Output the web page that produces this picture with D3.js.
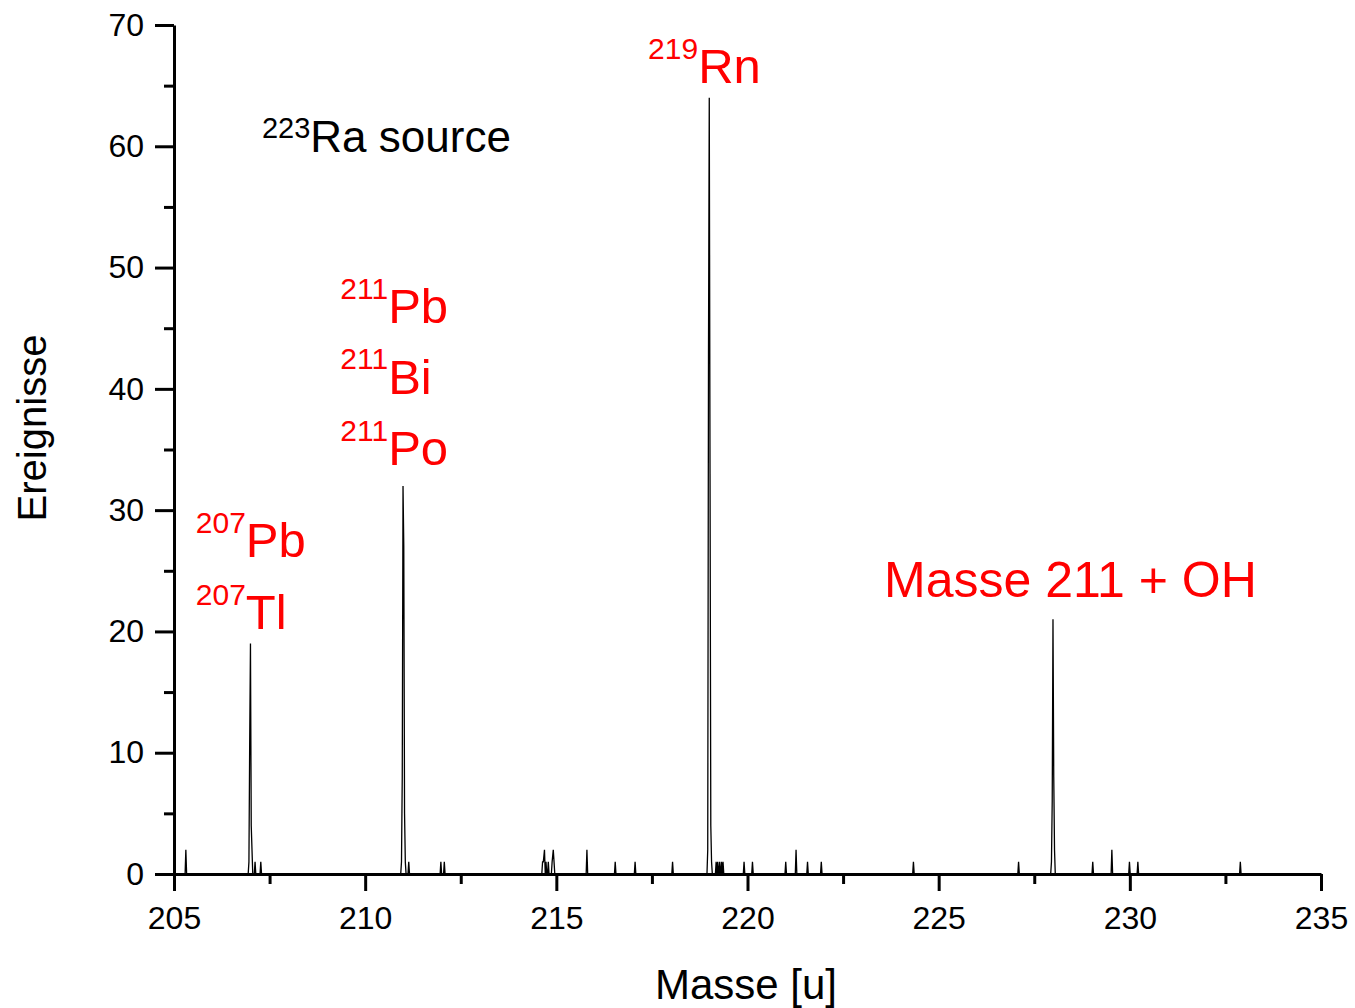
<!DOCTYPE html>
<html>
<head>
<meta charset="utf-8">
<script src="https://cdn.jsdelivr.net/npm/d3@7"></script>
<style>
  body { margin: 0; background: #fff; }
  svg { display: block; font-family: "Liberation Sans", Arial, sans-serif; }
</style>
</head>
<body>
<div id="chart"></div>
<script>
// Massenspektrum, 223Ra Quelle
var masses = [205.31,
    206.96, 206.98, 207.00, 207.02, 207.04, 207.12, 207.27,
    210.95, 210.97, 210.99, 211.01, 211.03, 211.05, 211.14, 211.98, 212.07,
    214.64, 214.66, 214.69, 214.73, 214.79, 214.89, 214.92, 214.94,
    215.80, 216.54, 217.06, 218.04,
    218.96, 218.98, 219.00, 219.02, 219.04, 219.06,
    219.18, 219.22, 219.27, 219.32, 219.36, 219.91, 220.13,
    221.00, 221.27, 221.57, 221.93, 224.34, 227.09,
    227.95, 227.97, 227.99, 228.01, 228.03,
    229.03, 229.53, 229.99, 230.21, 232.89];
var counts = [2,
    1, 11, 19, 4, 2, 1, 1,
    1, 8, 32, 27, 5, 1, 1, 1, 1,
    1, 1, 2, 1, 1, 1, 2, 1,
    2, 1, 1, 1,
    2, 43, 64, 33, 4, 1,
    1, 1, 1, 1, 1, 1, 1,
    1, 2, 1, 1, 1, 1,
    1, 6, 21, 8, 2,
    1, 2, 1, 1, 1];
var xTicks = [205, 210, 215, 220, 225, 230, 235];
var yTicks = [0, 10, 20, 30, 40, 50, 60, 70];

var width = 1355, height = 1008;
var binWidth = 0.02;

var svg = d3.select("#chart").append("svg")
    .attr("width", width)
    .attr("height", height);

var x = d3.scaleLinear().domain([205, 235]).range([174, 1321]);
var y = d3.scaleLinear().domain([0, 70]).range([874, 25]);

// Linienzug: Nullpunkte vor/nach jeder Gruppe benachbarter Bins
var pts = [];
for (var i = 0; i < masses.length; i++) {
    var m = masses[i];
    if (i === 0 || masses[i - 1] < m - 1.5 * binWidth) pts.push([m - binWidth, 0]);
    pts.push([m, counts[i]]);
    if (i === masses.length - 1 || masses[i + 1] > m + 1.5 * binWidth) pts.push([m + binWidth, 0]);
}
pts.unshift([205, 0]);
pts.push([235, 0]);

var line = d3.line()
    .x(function (d) { return x(d[0]); })
    .y(function (d) { return y(d[1]); });

svg.append("path")
    .datum(pts)
    .attr("d", line)
    .attr("fill", "none")
    .attr("stroke", "#000")
    .attr("stroke-width", 1.3);

// Achsen
var xMinor = d3.range(207.5, 235, 5);
var yMinor = d3.range(5, 70, 10);

svg.append("g")
    .attr("transform", "translate(0,874)")
    .call(d3.axisBottom(x).tickValues(xMinor).tickSize(10).tickFormat(""))
    .call(function (g) { g.select(".domain").remove(); });
svg.append("g")
    .attr("transform", "translate(174,0)")
    .call(d3.axisLeft(y).tickValues(yMinor).tickSize(10).tickFormat(""))
    .call(function (g) { g.select(".domain").remove(); });

var xAxis = svg.append("g")
    .attr("transform", "translate(0,874)")
    .call(d3.axisBottom(x).tickValues(xTicks).tickSize(17).tickSizeOuter(0).tickPadding(15).tickFormat(d3.format("d")));
var yAxis = svg.append("g")
    .attr("transform", "translate(174,0)")
    .call(d3.axisLeft(y).tickValues(yTicks).tickSize(19).tickSizeOuter(0).tickPadding(11).tickFormat(d3.format("d")));

svg.selectAll(".domain, .tick line")
    .attr("stroke", "#000")
    .attr("stroke-width", 3);
svg.selectAll(".tick text")
    .attr("font-family", "Liberation Sans, Arial, sans-serif")
    .attr("font-size", 32)
    .attr("fill", "#000");

svg.append("text")
    .attr("x", 746)
    .attr("y", 999)
    .attr("text-anchor", "middle")
    .attr("font-size", 42)
    .text("Masse [u]");

svg.append("text")
    .attr("transform", "translate(46,428) rotate(-90)")
    .attr("text-anchor", "middle")
    .attr("font-size", 40)
    .text("Ereignisse");

// Beschriftungen
var labels = [
    { sup: "223", main: "Ra source", m: 207.3, v: 59.5, color: "#000", size: 44, supSize: 29, rise: 0.33 },
    { sup: "219", main: "Rn", m: 217.4, v: 65.2, color: "#ff0000", size: 49, supSize: 30, rise: 0.5 },
    { sup: "211", main: "Pb", m: 209.35, v: 45.4, color: "#ff0000", size: 49, supSize: 30, rise: 0.5 },
    { sup: "211", main: "Bi", m: 209.35, v: 39.6, color: "#ff0000", size: 49, supSize: 30, rise: 0.5 },
    { sup: "211", main: "Po", m: 209.35, v: 33.7, color: "#ff0000", size: 49, supSize: 30, rise: 0.5 },
    { sup: "207", main: "Pb", m: 205.57, v: 26.1, color: "#ff0000", size: 49, supSize: 30, rise: 0.5 },
    { sup: "207", main: "Tl", m: 205.57, v: 20.2, color: "#ff0000", size: 49, supSize: 30, rise: 0.5 },
    { sup: "", main: "Masse 211 + OH", m: 223.57, v: 22.8, color: "#ff0000", size: 50, supSize: 30, rise: 0 }
];

labels.forEach(function (l) {
    var t = svg.append("text")
        .attr("x", x(l.m))
        .attr("y", y(l.v))
        .attr("fill", l.color);
    if (l.sup) {
        t.append("tspan")
            .attr("font-size", l.supSize)
            .attr("dy", -l.size * l.rise)
            .text(l.sup);
        t.append("tspan")
            .attr("font-size", l.size)
            .attr("dy", l.size * l.rise)
            .text(l.main);
    } else {
        t.attr("font-size", l.size).text(l.main);
    }
});
</script>
</body>
</html>
